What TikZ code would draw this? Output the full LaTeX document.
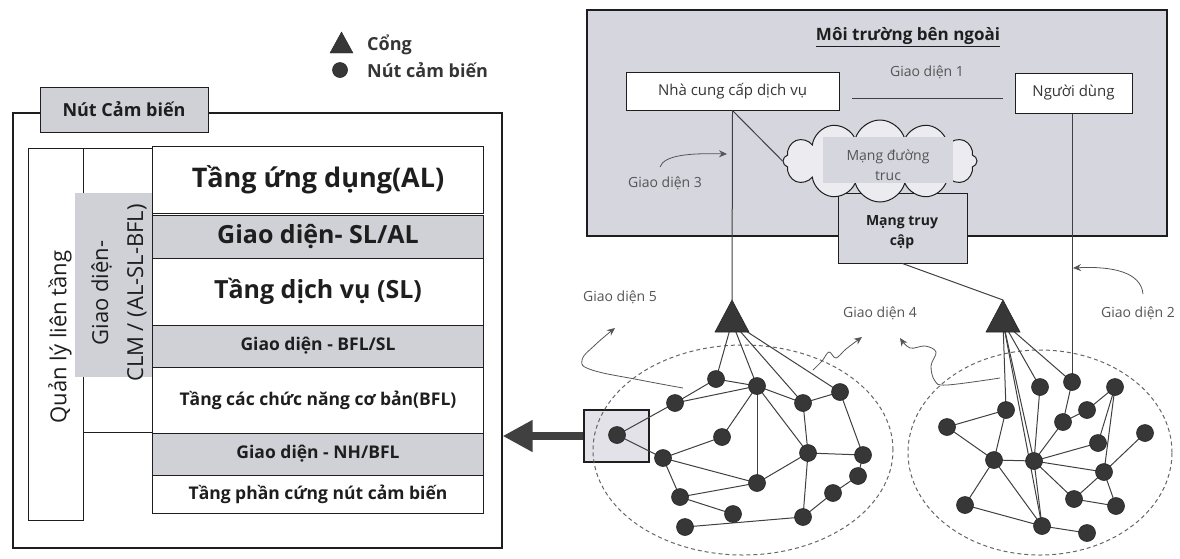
\documentclass[tikz,border=0pt]{standalone}
\usepackage{fontspec}
\setmainfont{Open Sans}
\usetikzlibrary{arrows.meta,shapes.symbols,shapes.geometric}
\definecolor{boxgray}{RGB}{214,214,222}
\definecolor{rowgray}{RGB}{208,208,215}
\definecolor{cloudfill}{RGB}{236,236,240}
\definecolor{selgray}{RGB}{226,226,232}
\definecolor{ink}{RGB}{30,30,30}
\definecolor{labelc}{RGB}{85,85,85}
\definecolor{nodec}{RGB}{55,55,55}
\tikzset{
  conn/.style={draw=ink!85, line width=1pt},
  sensor/.style={circle, fill=nodec, draw=black!85, line width=0.6pt, minimum size=17pt, inner sep=0pt},
  lbl/.style={font=\fontsize{14}{16}\selectfont, text=labelc, inner sep=0pt},
  frame/.style={draw=ink, line width=1.2pt},
  layerw/.style={draw=ink, line width=1pt, fill=white, minimum width=331pt, inner sep=0pt, text=ink},
  layerg/.style={layerw, fill=rowgray},
  bigtxt/.style={font=\fontsize{25}{28}\selectfont\bfseries},
  smtxt/.style={font=\fontsize{17.5}{20}\selectfont\bfseries},
  ptr/.style={-{Stealth[length=8pt,width=7pt]}, line width=0.8pt, draw=labelc},
  wbox/.style={draw=ink, line width=1pt, fill=white, inner sep=0pt, text=ink!90},
}
\begin{document}
\begin{tikzpicture}[x=1pt,y=-1pt]
\useasboundingbox (0,0) rectangle (1180,558);

% ---------------- legend ----------------
\filldraw[fill=nodec, draw=black!85] (330,53) -- (353,53) -- (341.5,32) -- cycle;
\node[sensor, minimum size=15pt] (legnode) at (340,70) {};
\node[anchor=west, font=\fontsize{18}{20}\selectfont\bfseries, text=ink!90, inner sep=0pt] (legg) at (367,45) {Cổng};
\node[anchor=west, font=\fontsize{18}{20}\selectfont\bfseries, text=ink!90, inner sep=0pt] (legn) at (367,70) {Nút cảm biến};

% ---------------- left panel ----------------
\node[frame, fill=white, minimum width=489pt, minimum height=435pt, inner sep=0pt] (outer) at (257.5,330.5) {};
\node[draw=ink, line width=1pt, fill=rowgray, minimum width=168pt, minimum height=45pt, inner sep=0pt,
      font=\fontsize{18}{20}\selectfont\bfseries, text=ink] (tab) at (124,109.5) {Nút Cảm biến};

\node[draw=ink, line width=1pt, minimum width=55pt, minimum height=372pt, inner sep=0pt] (qlt) at (55.5,334) {};
\node[draw=ink, line width=1pt, minimum width=69pt, minimum height=284pt, inner sep=0pt] (clm) at (117.5,290) {};

\node[layerw, minimum height=67pt, font=\fontsize{27}{30}\selectfont\bfseries] (al) at (318,180) {Tầng ứng dụng(AL)};
\node[layerg, minimum height=43pt, bigtxt] (slal) at (318,236.5) {Giao diện- SL/AL};
\node[layerw, minimum height=67pt, bigtxt] (sl) at (318,291.5) {Tầng dịch vụ (SL)};
\node[layerg, minimum height=42pt, smtxt] (bflsl) at (318,346) {Giao diện - BFL/SL};
\node[layerw, minimum height=66pt, smtxt] (bfl) at (318,400) {Tầng các chức năng cơ bản(BFL)};
\node[layerg, minimum height=42pt, smtxt] (nhbfl) at (318,454) {Giao diện - NH/BFL};
\node[layerw, minimum height=38pt, smtxt] (hw) at (318,494) {Tầng phần cứng nút cảm biến};

\fill[rowgray] (75,193) rectangle (151.5,377);
\node[rotate=90, font=\fontsize{22}{26}\selectfont, text=ink] (qlttxt) at (60,337) {Quản lý liên tầng};
\node[rotate=90, align=center, font=\fontsize{22}{35}\selectfont, text=ink] (clmtxt) at (119,293) {Giao diện-\\CLM / (AL-SL-BFL)};

% ---------------- external environment ----------------
\node[frame, fill=boxgray, minimum width=580pt, minimum height=226pt, inner sep=0pt] (env) at (877,123) {};
\node[font=\fontsize{17}{19}\selectfont\bfseries, text=ink, inner sep=0pt] (envt) at (908,37) {\underline{Môi trường bên ngoài}};
\node[wbox, minimum width=213pt, minimum height=38pt, font=\fontsize{15}{17}\selectfont] (nha) at (732.5,91) {Nhà cung cấp dịch vụ};
\node[wbox, minimum width=117pt, minimum height=40pt, font=\fontsize{15}{17}\selectfont] (nd) at (1073.5,93) {Người dùng};
\node[lbl] (gd1) at (927,72) {Giao diện 1};
\draw[conn] (852,98) -- (1003,98);

\node[draw=ink, line width=1pt, fill=boxgray, minimum width=129pt, minimum height=70pt, inner sep=0pt] (mtc) at (902.5,228) {};
\node[cloud, cloud puffs=12, cloud ignores aspect, draw=ink, line width=1pt, fill=cloudfill,
      minimum width=194pt, minimum height=82pt, inner sep=0pt] (cloud) at (880,161) {};
\fill[boxgray] (823,137) rectangle (953,183);
\node[align=center, font=\fontsize{14}{20}\selectfont, text=labelc] (cloudt) at (888,165) {Mạng đường\\truc};
\node[align=center, font=\fontsize{14}{20}\selectfont\bfseries, text=ink] (mtct) at (902,232) {Mạng truy\\cập};

% ---------------- clusters ----------------
\node[draw=ink, line width=1.2pt, fill=selgray, minimum width=65pt, minimum height=52pt, inner sep=0pt] (sel) at (616.5,436) {};
\draw[dashed, dash pattern=on 4pt off 3pt, line width=1pt, draw=black!60] (743,450) ellipse [x radius=150pt, y radius=105pt];
\draw[dashed, dash pattern=on 4pt off 3pt, line width=1pt, draw=black!60] (1040,452.5) ellipse [x radius=132pt, y radius=102.5pt];

% gateways (apex and fan points)
\coordinate (gLa) at (732,300);
\coordinate (gLs) at (732,322);
\coordinate (gRa) at (1003,300);
\coordinate (gRs) at (1003,322);

% left cluster sensors
\foreach \n/\x/\y in {a1/716/379, a2/757/386, a3/675/403, a4/803/403, a5/840/392, a6/617/435,
  a7/722/437, a8/663/458, a9/808/453, a10/863/455, a11/757/483, a12/858/476, a13/680/497,
  a14/833/493, a15/733/514, a16/803/517, a17/685/527}
  \coordinate (\n) at (\x,\y);
% right cluster sensors
\foreach \n/\x/\y in {b1/1040/387, b2/1072/382, b3/1115/387, b4/1006/410, b5/1063/422, b6/1087/410,
  b7/947/427, b8/1145/433, b9/1098/443, b10/994/460, b11/1034/461, b12/1104/472, b13/965/505,
  b14/1074/499, b15/1116/506, b16/1042/526, b17/1087/533}
  \coordinate (\n) at (\x,\y);

% connectors to outside
\draw[conn] (nha.south) -- (gLa);
\draw[conn] (nha.south) -- (cloud.west);
\draw[conn] (nd.south -| b2) -- (b2);
\draw[conn] (mtc.south) -- (gRa);

% edges
\foreach \u/\v in {gLs/a1, gLs/a2, gLs/a4, gLs/a5, a1/a2, a1/a3, a3/a2, a3/a6, a6/a8, a8/a7, a7/a2,
  a8/a11, a8/a13, a13/a11, a2/a11, a2/a9, a2/a4, a4/a5, a4/a9, a5/a10, a9/a10, a9/a11, a9/a16,
  a10/a12, a12/a14, a14/a16, a13/a15, a17/a16}
  \draw[conn] (\u) -- (\v);
\foreach \u/\v in {gRs/b4, gRs/b1, gRs/b2, gRs/b11, gRs/b16, b7/b4, b7/b10, b4/b10, b10/b11, b10/b13,
  b10/b16, b13/b16, b1/b11, b2/b5, b5/b11, b5/b6, b6/b3, b3/b9, b3/b12, b9/b11, b11/b12, b11/b14,
  b8/b12, b12/b14, b12/b15, b14/b15, b16/b17, b11/b16}
  \draw[conn] (\u) -- (\v);

% sensor nodes on top
\foreach \n in {a1,a2,a3,a4,a5,a6,a7,a8,a9,a10,a11,a12,a13,a14,a15,a16,a17,
  b1,b2,b3,b4,b5,b6,b7,b8,b9,b10,b11,b12,b13,b14,b15,b16,b17}
  \node[sensor] (s\n) at (\n) {};

% gateway triangles
\filldraw[fill=nodec, draw=black!85, line width=0.6pt] (715,332) -- (749,332) -- (gLa) -- cycle;
\filldraw[fill=nodec, draw=black!85, line width=0.6pt] (986,332) -- (1020,332) -- (gRa) -- cycle;

% thick arrow to the sensor node panel
\draw[line width=8pt, draw=ink!85, -{Triangle[length=30pt,width=30pt]}] (sel.west) -- (sel.west -| outer.east);

% interface labels and pointers
\node[lbl] (gd3) at (665,183) {Giao diện 3};
\draw[ptr] (660,167) .. controls (664,155) and (690,153) .. (727,154);
\node[lbl] (gd2) at (1138,313) {Giao diện 2};
\draw[ptr] (1143,294) .. controls (1141,272) and (1112,266) .. (1073,268);
\node[lbl] (gd5) at (620,297) {Giao diện 5};
\draw[ptr] plot[smooth, tension=0.7] coordinates {(683,388) (640,380) (592,370) (582,360) (595,345) (615,328)};
\node[lbl] (gd4) at (880,313) {Giao diện 4};
\draw[ptr] plot[smooth, tension=0.6] coordinates {(813,370) (822,361) (829,352) (836,358) (846,349) (862,337)};
\draw[ptr] plot[smooth, tension=0.6] coordinates {(1000,378) (947,385) (935,381) (931,366) (936,352) (925,346) (910,348) (900,338)};
\end{tikzpicture}
\end{document}
